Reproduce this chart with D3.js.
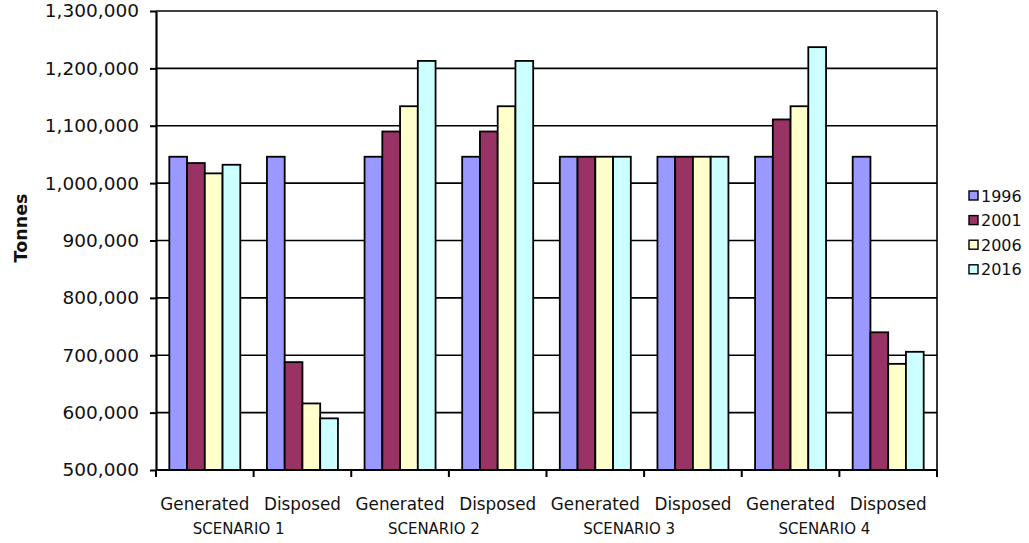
<!DOCTYPE html>
<html>
<head>
<meta charset="utf-8">
<script src="https://cdn.jsdelivr.net/npm/d3@7"></script>
<style>
  html, body { margin: 0; padding: 0; background: #fff; }
  svg { display: block; }
  text { font-family: "DejaVu Sans", Verdana, sans-serif; fill: #111; }
</style>
</head>
<body>
<svg id="chart" width="1029" height="543"></svg>
<script>
// Waste tonnages by scenario: generated vs disposed, four reference years
const scenarios = ["SCENARIO 1", "SCENARIO 2", "SCENARIO 3", "SCENARIO 4"];
const measures = ["Generated", "Disposed"];
const years = ["1996", "2001", "2006", "2016"];

// One value per category (scenario x measure), in the order S1 Gen, S1 Disp, S2 Gen, ...
const v1996 = [1046000, 1046000, 1046000, 1046000, 1046000, 1046000, 1046000, 1046000];
const v2001 = [1035000, 688000, 1090000, 1090000, 1046000, 1046000, 1111000, 740000];
const v2006 = [1017000, 616000, 1134000, 1134000, 1046000, 1046000, 1134000, 685000];
const v2016 = [1032000, 590000, 1213000, 1213000, 1046000, 1046000, 1237000, 706000];

const yTicks = [500000, 600000, 700000, 800000, 900000, 1000000, 1100000, 1200000, 1300000];
const colors = ["#9999FF", "#993366", "#FFFFCC", "#CCFFFF"];

const seriesValues = [v1996, v2001, v2006, v2016];
const categories = [];
scenarios.forEach(s => measures.forEach(m => categories.push({ key: s + "|" + m, scenario: s, measure: m })));

const svg = d3.select("#chart");
const plot = { left: 156, right: 937, top: 11, bottom: 470 };

const x0 = d3.scaleBand()
  .domain(categories.map(c => c.key))
  .range([plot.left, plot.right])
  .paddingInner(0).paddingOuter(0);

const x1 = d3.scaleBand()
  .domain(years)
  .range([0, x0.bandwidth()])
  .paddingInner(0).paddingOuter(0.75);

const y = d3.scaleLinear()
  .domain([yTicks[0], yTicks[yTicks.length - 1]])
  .range([plot.bottom, plot.top]);

const color = d3.scaleOrdinal().domain(years).range(colors);

// Horizontal gridlines
svg.append("g")
  .selectAll("line")
  .data(yTicks.slice(1))
  .join("line")
  .attr("x1", plot.left).attr("x2", plot.right)
  .attr("y1", d => y(d)).attr("y2", d => y(d))
  .attr("stroke", "#000").attr("stroke-width", 1.6);

// Right border of the plot area
svg.append("line")
  .attr("x1", plot.right).attr("x2", plot.right)
  .attr("y1", plot.top).attr("y2", plot.bottom)
  .attr("stroke", "#000").attr("stroke-width", 1.6);

// Bars
const barData = [];
categories.forEach((c, i) => {
  years.forEach((yr, j) => barData.push({ key: c.key, year: yr, value: seriesValues[j][i] }));
});

svg.append("g")
  .selectAll("rect")
  .data(barData)
  .join("rect")
  .attr("x", d => x0(d.key) + x1(d.year))
  .attr("width", x1.bandwidth())
  .attr("y", d => y(d.value))
  .attr("height", d => y(yTicks[0]) - y(d.value))
  .attr("fill", d => color(d.year))
  .attr("stroke", "#000")
  .attr("stroke-width", 1.8);

// Y axis
const yAxis = d3.axisLeft(y)
  .tickValues(yTicks)
  .tickFormat(d3.format(","))
  .tickSize(6)
  .tickSizeOuter(0)
  .tickPadding(11);

const gy = svg.append("g")
  .attr("transform", `translate(${plot.left},0)`)
  .call(yAxis);
gy.select(".domain").attr("stroke", "#000").attr("stroke-width", 2.2);
gy.selectAll(".tick line").attr("stroke", "#000").attr("stroke-width", 2);
gy.selectAll(".tick text")
  .attr("font-size", 18.5)
  .attr("fill", "#111")
  .attr("font-family", "'DejaVu Sans', Verdana, sans-serif");

// X axis: baseline with tick marks at category boundaries
const boundaries = categories.map(c => x0(c.key)).concat([plot.right]);
svg.append("line")
  .attr("x1", plot.left).attr("x2", plot.right)
  .attr("y1", plot.bottom).attr("y2", plot.bottom)
  .attr("stroke", "#000").attr("stroke-width", 2.2);
svg.append("g")
  .selectAll("line")
  .data(boundaries)
  .join("line")
  .attr("x1", d => d).attr("x2", d => d)
  .attr("y1", plot.bottom).attr("y2", plot.bottom + 7)
  .attr("stroke", "#000").attr("stroke-width", 2);

// Category labels
svg.append("g")
  .selectAll("text")
  .data(categories)
  .join("text")
  .attr("x", d => x0(d.key) + x0.bandwidth() / 2)
  .attr("y", 510)
  .attr("text-anchor", "middle")
  .attr("font-size", 16.8)
  .text(d => d.measure);

// Scenario labels, one under each Generated/Disposed pair
svg.append("g")
  .selectAll("text")
  .data(scenarios)
  .join("text")
  .attr("x", s => x0(s + "|" + measures[1]) - 15)
  .attr("y", 534)
  .attr("text-anchor", "middle")
  .attr("font-size", 15)
  .text(s => s);

// Y axis title
svg.append("text")
  .attr("transform", "translate(27,228) rotate(-90)")
  .attr("text-anchor", "middle")
  .attr("font-size", 17.5)
  .attr("font-weight", "bold")
  .text("Tonnes");

// Legend
const legend = svg.append("g")
  .selectAll("g")
  .data(years)
  .join("g")
  .attr("transform", (d, i) => `translate(969,${195.5 + i * 24.6})`);
legend.append("rect")
  .attr("x", 0).attr("y", -4.5)
  .attr("width", 9).attr("height", 9)
  .attr("fill", d => color(d))
  .attr("stroke", "#000").attr("stroke-width", 1.4);
legend.append("text")
  .attr("x", 12).attr("y", 6)
  .attr("font-size", 16)
  .text(d => d);
</script>
</body>
</html>
